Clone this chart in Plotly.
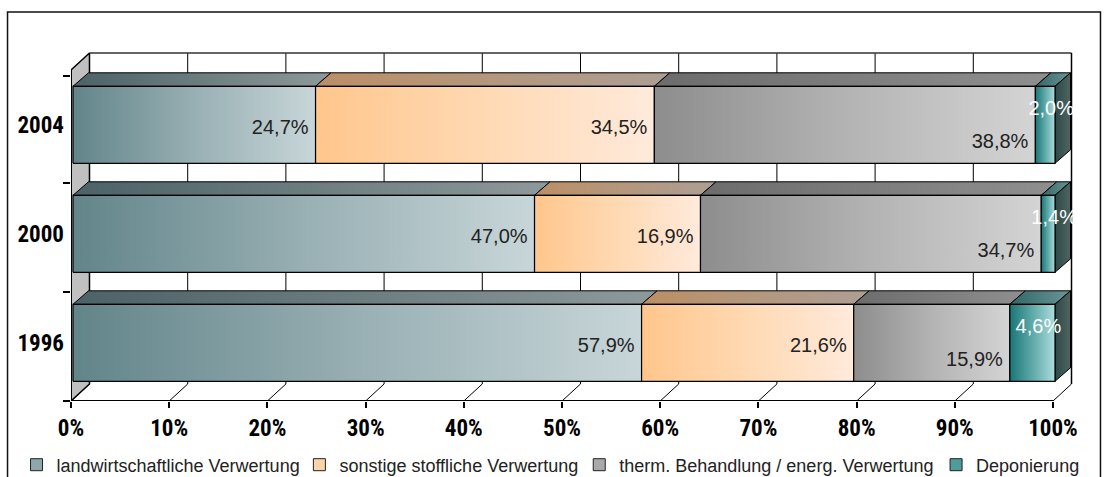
import plotly.graph_objects as go

# ---------------- data ----------------
years = ["1996", "2000", "2004"]
series_names = ["landwirtschaftliche Verwertung", "sonstige stoffliche Verwertung",
                "therm. Behandlung / energ. Verwertung", "Deponierung"]
landw = [57.9, 47.0, 24.7]
sonst = [21.6, 16.9, 34.5]
therm = [15.9, 34.7, 38.8]
depon = [4.6, 1.4, 2.0]
x_ticks = [0, 10, 20, 30, 40, 50, 60, 70, 80, 90, 100]
x_tick_labels = ["0%", "10%", "20%", "30%", "40%", "50%", "60%", "70%", "80%", "90%", "100%"]

series = [landw, sonst, therm, depon]

# ---------------- styles ----------------
front_scales = [
    [[0, "#62858a"], [0.5, "#98afb3"], [1, "#c8d6d9"]],
    [[0, "#ffc68c"], [0.5, "#ffd9b3"], [1, "#ffeadb"]],
    [[0, "#8d8d8d"], [0.5, "#b3b3b3"], [1, "#d4d4d4"]],
    [[0, "#1a7676"], [0.5, "#5fa9a9"], [1, "#addcdc"]],
]
top_scales = [
    [[0, "#4b6266"], [1, "#8e999b"]],
    [[0, "#bb8f66"], [1, "#ad9f94"]],
    [[0, "#6c6c6c"], [1, "#8f8f8f"]],
    [[0, "#336666"], [1, "#6a9696"]],
]
side_scale = [[0, "#2c4a48"], [1, "#4f6462"]]
legend_colors = ["#8ea7ab", "#ffd3a8", "#a9a9a9", "#4f9c9c"]
label_colors = ["#222222", "#222222", "#222222", "#ffffff"]
legend_px = [16, 299, 579, 936]                 # left pixel of each legend entry

W, H = 1106, 477
PL, PR, PT, PB = 70.5, 1074.0, 51.0, 401.0      # plot area in pixels
PX_PCT = 9.825                                  # px per percent
PX_CAT = 109.0                                  # px per category
Y0PX = 342.8                                    # px of first category centre

XMAX = (PR - PL) / PX_PCT
YMIN = -(PB - Y0PX) / PX_CAT
YMAX = (Y0PX - PT) / PX_CAT

WDX, WDY = 18.5 / PX_PCT, 17.0 / PX_CAT         # wall depth
BX0 = 2.0 / PX_PCT                              # bar front shift
BH = 38.5 / PX_CAT                              # half bar height
BDX, BDY = 15.5 / PX_PCT, 13.5 / PX_CAT         # bar depth
WALL_TOP = (Y0PX - 53.0) / PX_CAT

fig = go.Figure()


def poly(xs, ys, **kw):
    fig.add_trace(go.Scatter(x=xs + [xs[0]], y=ys + [ys[0]], mode="lines",
                             fill="toself", hoverinfo="skip", showlegend=False, **kw))


def lines(segs, color="black", width=1.0, clip=True):
    xs, ys = [], []
    for (x0, y0, x1, y1) in segs:
        xs += [x0, x1, None]
        ys += [y0, y1, None]
    fig.add_trace(go.Scatter(x=xs, y=ys, mode="lines", line=dict(color=color, width=width),
                             hoverinfo="skip", showlegend=False, cliponaxis=clip))


# back wall
poly([WDX, 100 + WDX, 100 + WDX, WDX], [YMIN + WDY, YMIN + WDY, WALL_TOP, WALL_TOP],
     fillcolor="white", line=dict(color="rgba(0,0,0,0)", width=0))
lines([(t + WDX, YMIN + WDY, t + WDX, WALL_TOP) for t in x_ticks[1:-1]], width=1)
lines([(t, YMIN, t + WDX, YMIN + WDY) for t in x_ticks], width=1)
lines([(WDX, WALL_TOP, 100 + WDX, WALL_TOP)], color="#333333", width=1.5)
lines([(100 + WDX, WALL_TOP, 100 + WDX, YMIN + WDY)], width=1.5)
# left wall
poly([0, 0, WDX, WDX], [YMIN, WALL_TOP - WDY, WALL_TOP, YMIN + WDY],
     fillcolor="#c0c0c0", line=dict(color="black", width=1.5))
lines([(0, YMIN, 100, YMIN)], width=2, clip=False)
lines([(0, YMIN, 0, WALL_TOP - WDY)], width=2, clip=False)

# bars
for ci in range(len(years)):
    c = ci
    start = 0.0
    segs = []
    for si, vals in enumerate(series):
        a, b = start, start + vals[ci]
        segs.append((a, b))
        start = b
    for si, (a, b) in enumerate(segs):
        poly([a + BX0, a + BX0 + BDX, b + BX0 + BDX, b + BX0],
             [c + BH, c + BH + BDY, c + BH + BDY, c + BH],
             fillgradient=dict(type="horizontal", colorscale=top_scales[si]),
             line=dict(color="black", width=1))
    b = segs[-1][1]
    poly([b + BX0, b + BX0, b + BX0 + BDX, b + BX0 + BDX],
         [c - BH, c + BH, c + BH + BDY, c - BH + BDY],
         fillgradient=dict(type="horizontal", colorscale=side_scale),
         line=dict(color="black", width=1))
    for si, (a, b) in enumerate(segs):
        poly([a + BX0, b + BX0, b + BX0, a + BX0],
             [c - BH, c - BH, c + BH, c + BH],
             fillgradient=dict(type="horizontal", colorscale=front_scales[si]),
             line=dict(color="black", width=1.2))

# data labels
LBL_DX = 7.0 / PX_PCT
for si, vals in enumerate(series):
    xs, ys, txt = [], [], []
    cum = [sum(series[k][ci] for k in range(si)) for ci in range(len(years))]
    for ci in range(len(years)):
        a = cum[ci]
        b = a + vals[ci]
        if si == 3:
            xs.append((a + b) / 2 + BX0 + 6.0 / PX_PCT)
            ys.append(ci + 15.0 / PX_CAT)
        elif si == 2:
            xs.append(b + BX0 - LBL_DX)
            ys.append(ci - 18.0 / PX_CAT)
        else:
            xs.append(b + BX0 - LBL_DX)
            ys.append(ci - 4.0 / PX_CAT)
        txt.append(f"{vals[ci]:.1f}%".replace(".", ","))
    fig.add_trace(go.Scatter(
        x=xs, y=ys, text=txt, mode="text",
        textposition="middle center" if si == 3 else "middle left",
        textfont=dict(family="Liberation Sans, Arial, sans-serif", size=20, color=label_colors[si]),
        hoverinfo="skip", showlegend=False, cliponaxis=True))


def px_to_paper_x(px):
    return (px - PL) / (PR - PL)


def px_to_paper_y(py):
    return (PB - py) / (PB - PT)


# legend entries, one small legend per entry so each sits where the reference has it
legend_layout = {}
for si, name in enumerate(series_names):
    lname = "legend" if si == 0 else f"legend{si + 1}"
    fig.add_trace(go.Scatter(x=[None], y=[None], mode="markers", name=name, legend=lname,
                             marker=dict(symbol="square", size=12, color=legend_colors[si],
                                         line=dict(color="#222222", width=1))))
    legend_layout[lname] = dict(
        orientation="h", x=px_to_paper_x(legend_px[si]), y=px_to_paper_y(465),
        xanchor="left", yanchor="middle",
        font=dict(family="Liberation Sans, Arial, sans-serif", size=18, color="#222222"),
        itemwidth=30, bgcolor="rgba(0,0,0,0)")

fig.add_shape(type="rect", xref="paper", yref="paper",
              x0=px_to_paper_x(7), x1=px_to_paper_x(1100.5),
              y0=px_to_paper_y(480), y1=px_to_paper_y(12),
              line=dict(color="#111111", width=1.5), fillcolor="rgba(0,0,0,0)", layer="below")

narrow_bold = "Roboto Condensed, Noto Sans Condensed, Liberation Sans Narrow, Liberation Sans, sans-serif"
tick_font = dict(family=narrow_bold, size=23, color="black", weight="bold")

fig.update_layout(
    width=W, height=H,
    margin=dict(l=PL, r=W - PR, t=PT, b=H - PB, autoexpand=False),
    paper_bgcolor="white", plot_bgcolor="rgba(0,0,0,0)",
    showlegend=True,
    xaxis=dict(range=[0, XMAX], tickvals=x_ticks, ticktext=x_tick_labels,
               showgrid=False, zeroline=False, showline=False,
               ticks="outside", ticklen=6, tickwidth=1.5, tickcolor="black",
               tickfont=tick_font, fixedrange=True),
    yaxis=dict(range=[YMIN, YMAX], tickvals=[0, 1, 2], ticktext=years,
               showgrid=False, zeroline=False, showline=False, ticks="",
               ticklabelstandoff=6,
               minor=dict(tickvals=[YMIN + 1e-6, YMIN + 1, YMIN + 2, YMIN + 3 - 0.02],
                          ticks="outside", ticklen=7, tickwidth=1.5, tickcolor="black"),
               tickfont=tick_font, fixedrange=True),
    **legend_layout,
)

fig.write_html("out.html")
